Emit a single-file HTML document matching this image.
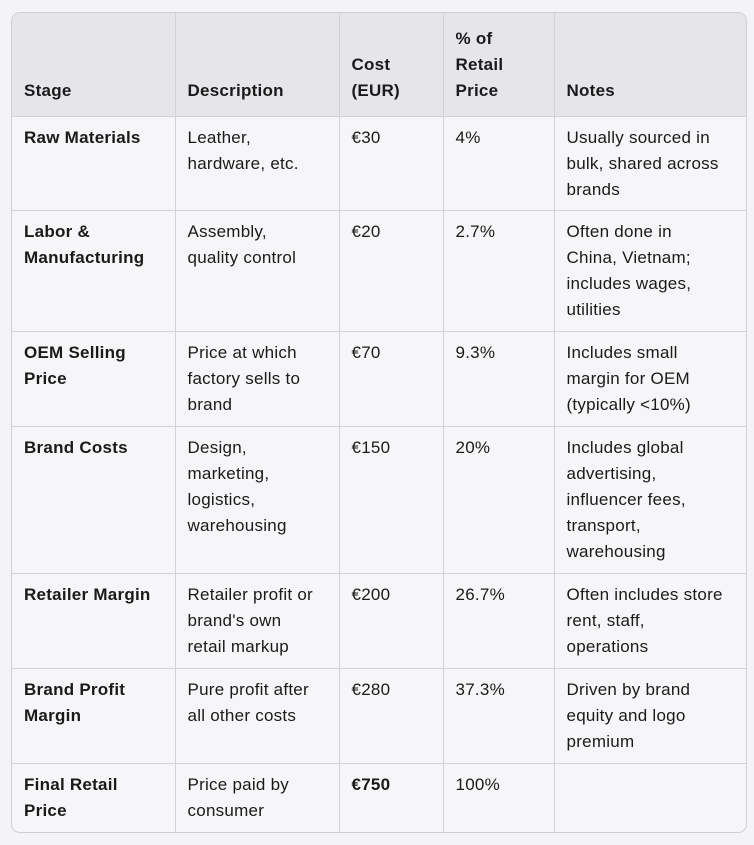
<!DOCTYPE html>
<html><head><meta charset="utf-8"><style>
html,body{margin:0;padding:0;background:#f4f4f6;width:754px;height:845px;overflow:hidden}
.wrap{position:absolute;left:11px;top:12px;width:734px;border:1px solid #cfcfd4;border-radius:9px;overflow:hidden;background:#f6f6f8}
table{border-collapse:collapse;table-layout:fixed;width:734px;font-family:"Segoe UI","Liberation Sans",sans-serif;font-size:17px;letter-spacing:0.25px;line-height:26px;color:#1a1a1a}
td,th{padding:8px 12px 7px 12px;vertical-align:top;text-align:left;border-right:1px solid #d2d2d7;border-bottom:1px solid #d2d2d7;box-sizing:border-box;white-space:nowrap;overflow:hidden}
th{background:#e6e6ea;vertical-align:bottom;font-weight:bold;height:103px;padding-bottom:12px}
td:last-child,th:last-child{border-right:none}
tr:last-child td{border-bottom:none}
td:first-child{font-weight:bold}
</style></head><body>
<div class="wrap"><table>
<colgroup><col style="width:163px"><col style="width:164px"><col style="width:104px"><col style="width:111px"><col style="width:192px"></colgroup>
<tr><th>Stage</th><th>Description</th><th>Cost<br>(EUR)</th><th>% of<br>Retail<br>Price</th><th>Notes</th></tr>
<tr style="height:94px"><td>Raw Materials</td><td>Leather,<br>hardware, etc.</td><td>€30</td><td>4%</td><td>Usually sourced in<br>bulk, shared across<br>brands</td></tr>
<tr style="height:121px"><td>Labor &amp;<br>Manufacturing</td><td>Assembly,<br>quality control</td><td>€20</td><td>2.7%</td><td>Often done in<br>China, Vietnam;<br>includes wages,<br>utilities</td></tr>
<tr style="height:95px"><td>OEM Selling<br>Price</td><td>Price at which<br>factory sells to<br>brand</td><td>€70</td><td>9.3%</td><td>Includes small<br>margin for OEM<br>(typically &lt;10%)</td></tr>
<tr style="height:147px"><td>Brand Costs</td><td>Design,<br>marketing,<br>logistics,<br>warehousing</td><td>€150</td><td>20%</td><td>Includes global<br>advertising,<br>influencer fees,<br>transport,<br>warehousing</td></tr>
<tr style="height:95px"><td>Retailer Margin</td><td>Retailer profit or<br>brand's own<br>retail markup</td><td>€200</td><td>26.7%</td><td>Often includes store<br>rent, staff,<br>operations</td></tr>
<tr style="height:95px"><td>Brand Profit<br>Margin</td><td>Pure profit after<br>all other costs</td><td>€280</td><td>37.3%</td><td>Driven by brand<br>equity and logo<br>premium</td></tr>
<tr style="height:69px"><td>Final Retail<br>Price</td><td>Price paid by<br>consumer</td><td><b>€750</b></td><td>100%</td><td></td></tr>
</table></div>
</body></html>
